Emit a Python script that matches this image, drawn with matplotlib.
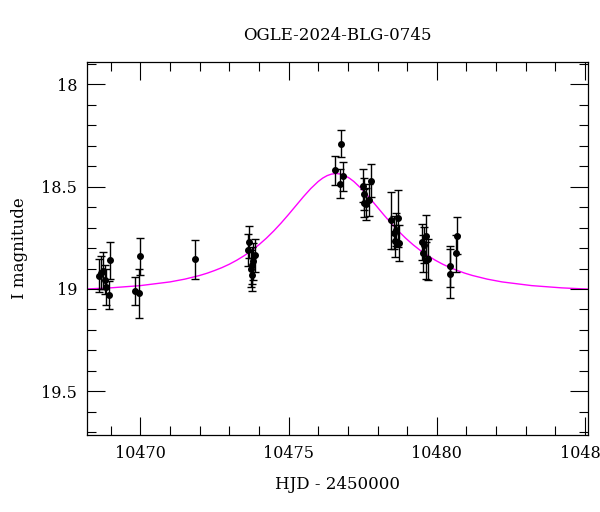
import numpy as np
import matplotlib
matplotlib.use("Agg")
import matplotlib.pyplot as plt
from matplotlib.ticker import MultipleLocator

# observed photometry (HJD - 2450000, I mag, error)
hjd = [10468.62, 10468.68, 10468.73, 10468.80, 10468.84, 10468.95, 10468.99,
       10469.82, 10469.94, 10469.98, 10471.85,
       10473.62, 10473.68, 10473.72, 10473.76, 10473.78, 10473.80, 10473.86,
       10476.58, 10476.75, 10476.78, 10476.82,
       10477.50, 10477.53, 10477.55, 10477.62, 10477.72, 10477.78,
       10478.47, 10478.55, 10478.60, 10478.64, 10478.70, 10478.73,
       10479.50, 10479.53, 10479.58, 10479.62, 10479.63, 10479.71,
       10480.44, 10480.46, 10480.64, 10480.67]
mag = [18.935, 18.92, 18.91, 18.955, 18.99, 19.03, 18.86,
       19.01, 19.02, 18.84, 18.855,
       18.81, 18.77, 18.90, 18.93, 18.885, 18.865, 18.835,
       18.42, 18.485, 18.29, 18.45,
       18.495, 18.535, 18.58, 18.585, 18.565, 18.47,
       18.665, 18.725, 18.765, 18.71, 18.655, 18.775,
       18.77, 18.825, 18.785, 18.74, 18.86, 18.855,
       18.925, 18.89, 18.825, 18.74]
err = [0.08, 0.08, 0.09, 0.07, 0.09, 0.07, 0.09,
       0.07, 0.12, 0.09, 0.095,
       0.08, 0.08, 0.09, 0.08, 0.09, 0.09, 0.08,
       0.07, 0.07, 0.065, 0.07,
       0.08, 0.08, 0.07, 0.08, 0.08, 0.08,
       0.14, 0.08, 0.08, 0.08, 0.14, 0.09,
       0.09, 0.09, 0.09, 0.10, 0.09, 0.10,
       0.12, 0.10, 0.09, 0.09]

# model curve
model_t = [10468.2, 10469.0, 10470.0, 10471.0, 10471.5, 10472.0, 10472.25,
           10472.5, 10472.75, 10473.0, 10473.25, 10473.5, 10473.75, 10474.0,
           10474.25, 10474.5, 10474.75, 10475.0, 10475.25, 10475.5, 10475.75,
           10476.0, 10476.15, 10476.3, 10476.45, 10476.6, 10476.75, 10476.9,
           10477.05, 10477.2, 10477.45, 10477.7, 10477.95, 10478.2, 10478.45,
           10478.7, 10478.95, 10479.2, 10479.45, 10479.7, 10479.95, 10480.2,
           10480.45, 10480.7, 10480.95, 10481.2, 10481.7, 10482.2, 10483.2,
           10484.2, 10485.1]
model_mag = [19.000, 18.9945, 18.9836, 18.9655, 18.9519, 18.934, 18.923,
             18.910, 18.8957, 18.879, 18.8596, 18.8375, 18.8124, 18.7838,
             18.7518, 18.7162, 18.6773, 18.6356, 18.5923, 18.549, 18.5088,
             18.4744, 18.458, 18.4458, 18.4382, 18.4356, 18.4382, 18.4458,
             18.458, 18.4744, 18.5088, 18.549, 18.5923, 18.6356, 18.6773,
             18.7162, 18.7518, 18.7838, 18.8124, 18.8375, 18.8596, 18.879,
             18.8957, 18.910, 18.923, 18.934, 18.9519, 18.9655, 18.9836,
             18.9945, 19.0007]

plt.rcParams["font.family"] = ["DejaVu Serif"]

fig = plt.figure(figsize=(6, 5.12), dpi=100)
ax = fig.add_axes([0.145, 0.150, 0.835, 0.729])

ax.plot(model_t, model_mag, color="#ff00ff", lw=1.0, zorder=1)
ax.errorbar(hjd, mag, yerr=err, fmt="o", color="black", ms=4,
            elinewidth=1.0, capsize=3, capthick=1.0, zorder=2)

ax.set_xlim(10468.2, 10485.1)
ax.set_ylim(19.715, 17.89)

ax.xaxis.set_major_locator(MultipleLocator(5))
ax.xaxis.set_minor_locator(MultipleLocator(1))
ax.yaxis.set_major_locator(MultipleLocator(0.5))
ax.yaxis.set_minor_locator(MultipleLocator(0.1))
ax.yaxis.set_major_formatter(plt.FuncFormatter(lambda v, p: f"{v:g}"))

ax.tick_params(which="both", direction="in", top=True, right=True,
               labelsize=11.5, width=0.8)
ax.tick_params(which="major", length=13, pad=7)
ax.tick_params(which="minor", length=6.5)
for s in ax.spines.values():
    s.set_linewidth(0.9)

ax.set_title("OGLE-2024-BLG-0745", fontsize=12, pad=16)
ax.set_xlabel("HJD - 2450000", fontsize=12, labelpad=10)
ax.set_ylabel("I magnitude", fontsize=12, labelpad=10)

fig.savefig("out.png", dpi=100)
